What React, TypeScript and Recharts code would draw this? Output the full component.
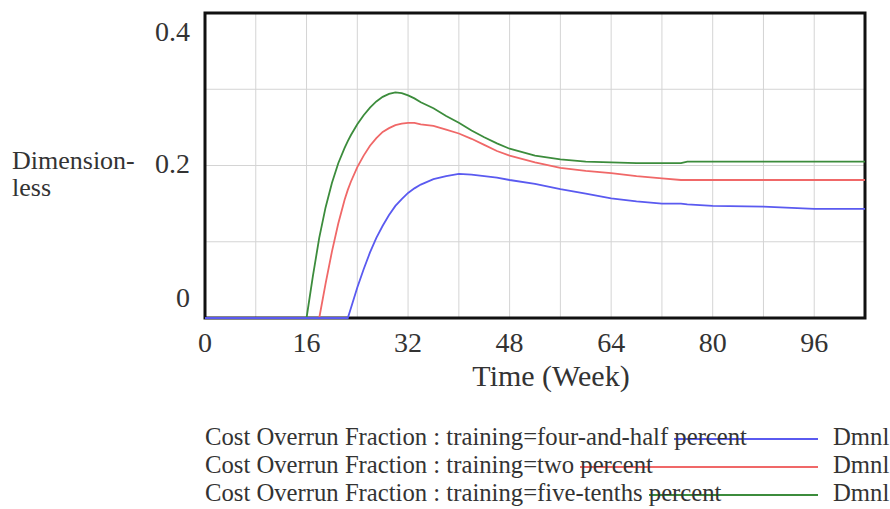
import { LineChart, Line, XAxis, YAxis, CartesianGrid, ReferenceArea } from 'recharts';

const weeks = [
  0, 16, 17, 18, 19, 20, 21, 22, 22.5, 23, 24, 25, 26, 27, 28, 29, 30, 31, 32, 33, 34,
  36, 38, 40, 42, 44, 46, 48, 52, 56, 60, 64, 68, 72, 75, 76, 80, 88, 96, 104
];

// training = five-tenths percent (green)
const fiveTenthsPct = [
  0, 0, 0.055, 0.105, 0.145, 0.177, 0.203, 0.223, 0.232, 0.24, 0.254, 0.266, 0.276, 0.284,
  0.29, 0.294, 0.296, 0.295, 0.292, 0.288, 0.283, 0.275, 0.265, 0.256, 0.246, 0.237, 0.229,
  0.222, 0.213, 0.208, 0.205, 0.204, 0.203, 0.203, 0.203, 0.205, 0.205, 0.205, 0.205, 0.205
];

// training = two percent (red)
const twoPct = [
  0, 0, 0, 0, 0.045, 0.087, 0.124, 0.155, 0.168, 0.179, 0.198, 0.213, 0.226, 0.236, 0.244,
  0.249, 0.253, 0.255, 0.256, 0.256, 0.254, 0.252, 0.247, 0.242, 0.235, 0.227, 0.219, 0.213,
  0.204, 0.197, 0.193, 0.19, 0.186, 0.183, 0.181, 0.181, 0.181, 0.181, 0.181, 0.181
];

// training = four-and-half percent (blue)
const fourHalfPct = [
  0, 0, 0, 0, 0, 0, 0, 0, 0, 0.013, 0.04, 0.064, 0.086, 0.105, 0.121, 0.135, 0.147, 0.156,
  0.164, 0.17, 0.175, 0.182, 0.186, 0.189, 0.188, 0.186, 0.184, 0.181, 0.176, 0.169, 0.163,
  0.157, 0.153, 0.15, 0.15, 0.149, 0.147, 0.146, 0.143, 0.143
];

const xTicks = [0, 8, 16, 24, 32, 40, 48, 56, 64, 72, 80, 88, 96, 104];
const xLabels = [0, 16, 32, 48, 64, 80, 96];
const yTicks = [0, 0.1, 0.2, 0.3, 0.4];
const yLabels = [0, 0.2, 0.4];

const legendRows = [
  { prefix: 'Cost Overrun Fraction : training=four-and-half ', color: '#5a5af0' },
  { prefix: 'Cost Overrun Fraction : training=two ', color: '#f06868' },
  { prefix: 'Cost Overrun Fraction : training=five-tenths ', color: '#3c8c3c' },
];

const data = weeks.map((w, i) => ({
  week: w,
  fiveTenths: fiveTenthsPct[i],
  two: twoPct[i],
  fourHalf: fourHalfPct[i],
}));

const FONT = "'Liberation Serif', serif";
const TEXT = '#333';

function XTick(props: any) {
  const { x, y, payload } = props;
  if (!xLabels.includes(payload.value)) return null;
  return (
    <text x={x} y={y} dy={34} textAnchor="middle" fontFamily={FONT} fontSize={28} fill={TEXT}>
      {payload.value}
    </text>
  );
}

function YTick(props: any) {
  const { x, y, payload } = props;
  const v = payload.value;
  if (!yLabels.includes(v)) return null;
  const dy = v === 0.4 ? 28 : v === 0 ? -11 : 7;
  return (
    <text x={x} y={y} dx={-15} dy={dy} textAnchor="end" fontFamily={FONT} fontSize={28} fill={TEXT}>
      {v}
    </text>
  );
}

const txt = { position: 'absolute' as const, fontFamily: FONT, color: TEXT };

export default function App() {
  return (
    <div style={{ position: 'absolute', left: 0, top: 0, width: 890, height: 509, background: '#fff' }}>
      <LineChart width={890} height={509} data={data} margin={{ top: 13, right: 25, bottom: 131, left: 0 }}>
        <CartesianGrid stroke="#d4d4d4" strokeWidth={1} />
        <XAxis
          dataKey="week"
          type="number"
          domain={[0, 104]}
          ticks={xTicks}
          interval={0}
          tick={<XTick />}
          tickLine={false}
          tickSize={0}
          tickMargin={0}
          axisLine={false}
          height={60}
        />
        <YAxis
          type="number"
          domain={[0, 0.4]}
          ticks={yTicks}
          interval={0}
          tick={<YTick />}
          tickLine={false}
          tickSize={0}
          tickMargin={0}
          axisLine={false}
          width={205}
        />
        <Line dataKey="fiveTenths" type="linear" stroke="#3c8c3c" strokeWidth={1.8} dot={false} isAnimationActive={false} />
        <Line dataKey="two" type="linear" stroke="#f06868" strokeWidth={1.8} dot={false} isAnimationActive={false} />
        <Line dataKey="fourHalf" type="linear" stroke="#5a5af0" strokeWidth={1.8} dot={false} isAnimationActive={false} />
        <ReferenceArea x1={0} x2={104} y1={0} y2={0.4} fill="none" stroke="#111" strokeWidth={3} ifOverflow="visible" />
      </LineChart>

      <div style={{ ...txt, left: 12, top: 147, fontSize: 26, lineHeight: '27px' }}>
        Dimension-<br />less
      </div>
      <div style={{ ...txt, left: 0, width: 1102, top: 359, textAlign: 'center', fontSize: 30 }}>
        Time (Week)
      </div>

      {legendRows.map((r, i) => (
        <div
          key={i}
          style={{ ...txt, left: 205, top: 423 + i * 28, width: 613, height: 28, display: 'flex', fontSize: 24.7, lineHeight: '28px', whiteSpace: 'pre' }}
        >
          <span>{r.prefix}</span>
          <span style={{ flex: 1, position: 'relative' }}>
            <span style={{ position: 'absolute', left: 0, right: 0, top: 15, height: 2, background: r.color }} />
            <span style={{ position: 'relative' }}>percent</span>
          </span>
        </div>
      ))}
      {legendRows.map((_r, i) => (
        <div key={'u' + i} style={{ ...txt, left: 833, top: 423 + i * 28, fontSize: 24.7, lineHeight: '28px' }}>
          Dmnl
        </div>
      ))}
    </div>
  );
}
